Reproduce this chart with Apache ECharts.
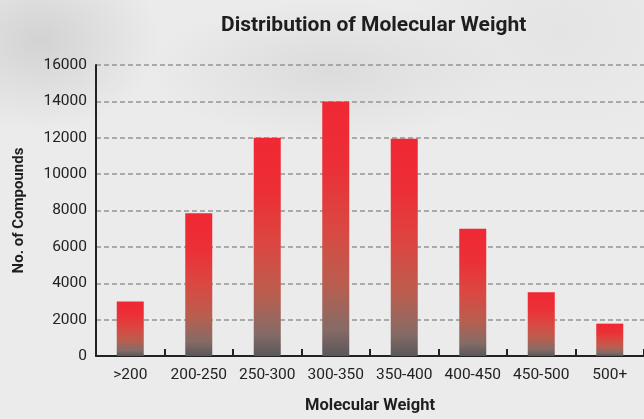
<!DOCTYPE html>
<html>
<head>
<meta charset="utf-8">
<script src="https://cdn.jsdelivr.net/npm/echarts@6/dist/echarts.min.js"></script>
<style>
html,body{margin:0;padding:0;width:644px;height:419px;overflow:hidden;}
body{
  background:
    radial-gradient(ellipse 120px 90px at 40px 40px, rgba(190,190,190,0.55), rgba(190,190,190,0) 100%),
    radial-gradient(ellipse 180px 70px at 330px 70px, rgba(200,200,200,0.45), rgba(200,200,200,0) 100%),
    radial-gradient(ellipse 160px 120px at 560px 30px, rgba(215,215,215,0.35), rgba(215,215,215,0) 100%),
    #ebebec;
}
#c{width:644px;height:419px;}
</style>
</head>
<body>
<div id="c"></div>
<script>
const categories = ['>200','200-250','250-300','300-350','350-400','400-450','450-500','500+'];
const compounds = [3000, 7850, 12000, 14000, 11950, 7000, 3500, 1780];
const yTicks = [0, 2000, 4000, 6000, 8000, 10000, 12000, 14000, 16000];

const FONT = "Roboto, 'Liberation Sans', sans-serif";
const chart = echarts.init(document.getElementById('c'), null, {renderer:'canvas', width: 644, height: 419});
chart.setOption({
  backgroundColor: 'transparent',
  animation: false,
  title: {
    text: 'Distribution of Molecular Weight',
    left: 216, top: 10,
    textStyle: {fontFamily: FONT, fontWeight: 'bold', fontSize: 21, color: '#1e1e1e'}
  },
  grid: {left: 96, width: 550, top: 65, height: 296, containLabel: false},
  xAxis: {
    type: 'category',
    data: categories,
    name: 'Molecular Weight',
    nameLocation: 'middle',
    nameGap: 41,
    nameTextStyle: {fontFamily: FONT, fontWeight: 'bold', fontSize: 16.5, color: '#1e1e1e'},
    axisLine: {lineStyle: {color: '#222', width: 2}},
    axisTick: {show: true, inside: true, length: 7, alignWithLabel: false, lineStyle: {color: '#222', width: 2}},
    axisLabel: {fontFamily: FONT, fontSize: 15.5, color: '#222', margin: 11, interval: 0},
    splitLine: {show: false}
  },
  yAxis: {
    type: 'value',
    min: yTicks[0], max: yTicks[yTicks.length-1], interval: 2000,
    name: 'No. of Compounds',
    nameLocation: 'middle',
    nameGap: 69,
    nameTextStyle: {fontFamily: FONT, fontWeight: 'bold', fontSize: 15, color: '#1e1e1e'},
    axisLine: {show: true, lineStyle: {color: '#222', width: 2}},
    axisTick: {show: false},
    axisLabel: {fontFamily: FONT, fontSize: 15.5, color: '#222', margin: 9, formatter: v => String(v)},
    splitLine: {show: true, lineStyle: {color: '#959595', width: 1.5, type: [5, 3]}}
  },
  series: [{
    type: 'bar',
    data: compounds,
    barWidth: 27,
    itemStyle: {
      color: new echarts.graphic.LinearGradient(0, 0, 0, 1, [
        {offset: 0, color: '#f02833'},
        {offset: 0.25, color: '#ec2f36'},
        {offset: 0.5, color: '#da4842'},
        {offset: 0.72, color: '#b95e4f'},
        {offset: 0.9, color: '#856b66'},
        {offset: 1, color: '#5a5759'}
      ])
    }
  }]
});
</script>
</body>
</html>
